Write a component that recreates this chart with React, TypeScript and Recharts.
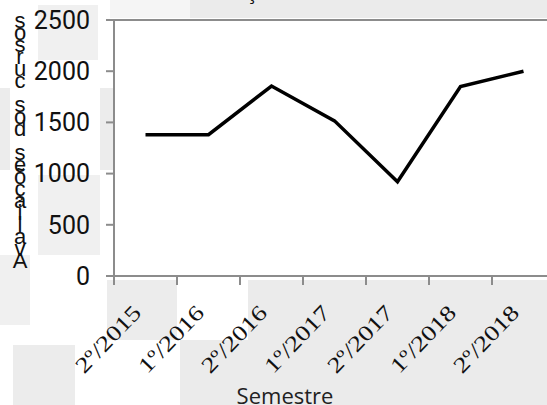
import React from "react";
import {
  CartesianGrid,
  Line,
  LineChart,
  ReferenceLine,
  XAxis,
  YAxis,
} from "recharts";

const semestres = ["2º/2015", "1º/2016", "2º/2016", "1º/2017", "2º/2017", "1º/2018", "2º/2018"];
const valores = [1380, 1380, 1855, 1515, 920, 1850, 2000];
const yTicks = [0, 500, 1000, 1500, 2000, 2500];
const yLabel = "Avaliações dos cursos";
const xLabel = "Semestre";
const titulo = "Evolução dos acessos";

const data = semestres.map((semestre, i) => ({ i, semestre, valor: valores[i] }));
const centerTicks = semestres.map((_, i) => i);
const edgeTicks = [...semestres.map((_, i) => i - 0.5), semestres.length - 0.5];
const domain = [-0.5, semestres.length - 0.5];

const axisGray = "#8c8c8c";

const patches = [
  { left: 110, top: 0, width: 80, height: 18, bg: "#f5f5f5" },
  { left: 190, top: 0, width: 357, height: 18, bg: "#ebebeb" },
  { left: 38, top: 5, width: 60, height: 55, bg: "#f0f0f0" },
  { left: 0, top: 88, width: 10, height: 82, bg: "#ececec" },
  { left: 100, top: 88, width: 14, height: 82, bg: "#ececec" },
  { left: 38, top: 175, width: 62, height: 80, bg: "#f0f0f0" },
  { left: 0, top: 255, width: 30, height: 70, bg: "#f0f0f0" },
  { left: 107, top: 280, width: 70, height: 60, bg: "#ececec" },
  { left: 248, top: 280, width: 299, height: 125, bg: "#ebebeb" },
  { left: 180, top: 340, width: 70, height: 65, bg: "#ebebeb" },
  { left: 13, top: 345, width: 62, height: 60, bg: "#ececec" },
];

const NoLabel = () => <g />;

const SemTick = (props: any) => {
  const { x, y, payload } = props;
  const label = semestres[payload.value] ?? "";
  const ax = x - 3;
  const ay = y + 28;
  return (
    <text
      x={ax}
      y={ay}
      transform={`rotate(-46, ${ax}, ${ay})`}
      textAnchor="end"
      style={{ fontFamily: "'Liberation Serif', 'DejaVu Serif', serif", fontSize: 22 }}
      fill="#111"
      textLength={84}
      lengthAdjust="spacingAndGlyphs"
    >
      {label}
    </text>
  );
};

export default function App() {
  const letters = yLabel.split("");
  return (
    <div
      style={{
        position: "fixed",
        left: 0,
        top: 0,
        width: 547,
        height: 405,
        overflow: "hidden",
        background: "#fff",
      }}
    >
      {patches.map((p, k) => (
        <div
          key={k}
          style={{ position: "absolute", left: p.left, top: p.top, width: p.width, height: p.height, background: p.bg }}
        />
      ))}
      <div style={{ position: "absolute", left: 0, top: 0 }}>
        <LineChart width={560} height={405} data={data} margin={{ top: 20, right: 5, left: 0, bottom: 0 }}>
          <CartesianGrid xAxisId={1} horizontal={false} vertical={false} fill="#fff" />
          <YAxis
            width={114}
            domain={[0, 2500]}
            ticks={yTicks}
            tickSize={8}
            tickMargin={16}
            axisLine={{ stroke: axisGray, strokeWidth: 2 }}
            tickLine={{ stroke: axisGray, strokeWidth: 2 }}
            tick={{ fontFamily: "Roboto", fontSize: 25, fill: "#111" }}
          />
          <XAxis
            xAxisId={0}
            type="number"
            dataKey="i"
            domain={domain}
            ticks={edgeTicks}
            interval={0}
            tick={<NoLabel />}
            tickSize={9}
            height={10}
            axisLine={{ stroke: axisGray, strokeWidth: 2 }}
            tickLine={{ stroke: axisGray, strokeWidth: 2 }}
          />
          <XAxis
            xAxisId={1}
            type="number"
            dataKey="i"
            domain={domain}
            ticks={centerTicks}
            interval={0}
            axisLine={false}
            tickLine={false}
            tickSize={0}
            tickMargin={0}
            height={119}
            tick={<SemTick />}
          />
          <ReferenceLine xAxisId={1} y={2500} stroke={axisGray} strokeWidth={2} />
          <Line
            xAxisId={1}
            type="linear"
            dataKey="valor"
            stroke="#000"
            strokeWidth={3.5}
            dot={false}
            isAnimationActive={false}
          />
        </LineChart>
      </div>
      <svg width={547} height={405} style={{ position: "absolute", left: 0, top: 0, pointerEvents: "none" }}>
        <text x={196} y={-1} fontFamily="'Open Sans', sans-serif" fontSize={20} fill="#111">
          {titulo}
        </text>
        {letters.map((ch, k) => (
          <text
            key={k}
            x={20}
            y={268 - k * 12}
            textAnchor="middle"
            fontFamily="'Liberation Sans', Arial, sans-serif"
            fontSize={22}
            fill="#111"
          >
            {ch}
          </text>
        ))}
        <text x={285} y={404} textAnchor="middle" fontFamily="'Open Sans', sans-serif" fontSize={22} fill="#222">
          {xLabel}
        </text>
      </svg>
    </div>
  );
}
